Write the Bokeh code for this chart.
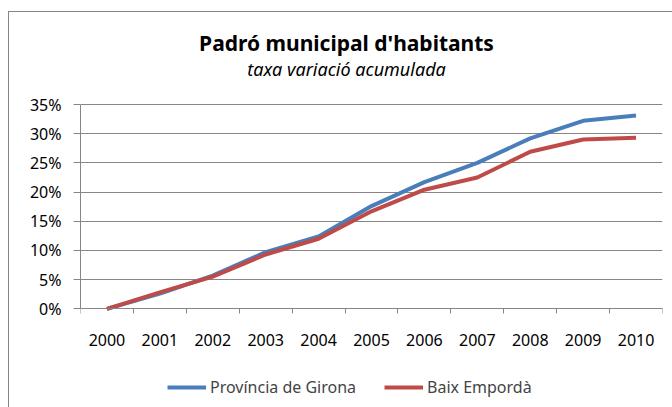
from bokeh.plotting import figure
from bokeh.models import (FixedTicker, NumeralTickFormatter, Label, Legend, LegendItem)
from bokeh.embed import file_html
from bokeh.resources import INLINE

# ---- data ----
years = [2000, 2001, 2002, 2003, 2004, 2005, 2006, 2007, 2008, 2009, 2010]
year_labels = ["2000", "2001", "2002", "2003", "2004", "2005", "2006", "2007", "2008", "2009", "2010"]
girona = [0.0, 2.6, 5.7, 9.7, 12.4, 17.6, 21.7, 25.0, 29.2, 32.2, 33.1]
baix_emporda = [0.0, 2.8, 5.5, 9.3, 12.0, 16.7, 20.4, 22.5, 26.9, 29.0, 29.3]
y_ticks = [0, 5, 10, 15, 20, 25, 30, 35]
series_names = ["Província de Girona", "Baix Empordà"]
title_text = "Padró municipal d'habitants"
subtitle_text = "taxa variació acumulada"

FONT = "Noto Sans"
GRAY = "#868686"
BLUE = "#4A7EBB"
RED = "#BE4B48"

girona_f = [v / 100 for v in girona]
baix_f = [v / 100 for v in baix_emporda]
y_top = y_ticks[-1] / 100

# the frame covers the whole chart area; the value axis spans 0..35% in its middle part
PX_PER_UNIT = 204.3 / y_top
y_lo = -(407 - 308.3) / PX_PER_UNIT
y_hi = y_top + (104 - 12) / PX_PER_UNIT

p = figure(frame_width=582, frame_height=395, output_backend="svg", toolbar_location=None,
           title=None,
           x_range=(years[0] - 0.5, years[-1] + 0.5), y_range=(y_lo, y_hi),
           min_border_left=71, min_border_right=10, min_border_top=0, min_border_bottom=0,
           margin=(11, 0, 0, 8))
p.styles = {"border-left": "1px solid #868686", "border-top": "1px solid #868686"}
p.outline_line_color = None
p.background_fill_color = "white"
p.border_fill_color = "white"

# x axis: drawn at 0%, labels at years, tick marks between categories
boundaries = [years[0] - 0.5] + [y + 0.5 for y in years]
p.xaxis.fixed_location = 0
p.xaxis.ticker = FixedTicker(ticks=years, minor_ticks=boundaries)
p.xaxis.major_label_overrides = {y: l for y, l in zip(years, year_labels)}
p.xaxis.major_tick_out = 0
p.xaxis.major_tick_in = 0
p.xaxis.minor_tick_out = 5
p.xaxis.minor_tick_in = 0
p.xaxis.minor_tick_line_color = GRAY
p.xaxis.axis_line_color = GRAY
p.xaxis.major_label_standoff = 20
p.xaxis.major_label_text_font = FONT
p.xaxis.major_label_text_font_size = "16px"
p.xaxis.major_label_text_color = "black"
p.xgrid.grid_line_color = None

# y axis
p.yaxis.ticker = FixedTicker(ticks=[t / 100 for t in y_ticks])
p.yaxis.bounds = (0, y_top)
p.yaxis.formatter = NumeralTickFormatter(format="0%")
p.yaxis.major_tick_out = 7
p.yaxis.major_tick_in = 0
p.yaxis.minor_tick_line_color = None
p.yaxis.major_tick_line_color = GRAY
p.yaxis.axis_line_color = GRAY
p.yaxis.major_label_standoff = 12
p.yaxis.major_label_text_font = FONT
p.yaxis.major_label_text_font_size = "16px"
p.yaxis.major_label_text_color = "black"
p.ygrid.grid_line_color = GRAY
p.ygrid.grid_line_width = 1

r1 = p.line(years, girona_f, line_color=BLUE, line_width=4)
r2 = p.line(years, baix_f, line_color=RED, line_width=4)

# titles (screen units, measured from the frame's bottom-left corner)
p.add_layout(Label(x=266, y=365, x_units="screen", y_units="screen", text=title_text,
                   text_font=FONT, text_font_style="bold", text_font_size="21px",
                   text_align="center", text_baseline="alphabetic", text_color="black"))
p.add_layout(Label(x=266, y=338.5, x_units="screen", y_units="screen", text=subtitle_text,
                   text_font=FONT, text_font_style="italic", text_font_size="18px",
                   text_align="center", text_baseline="alphabetic", text_color="black"))

legend = Legend(items=[LegendItem(label=series_names[0], renderers=[r1]),
                       LegendItem(label=series_names[1], renderers=[r2])],
                orientation="horizontal", location=(87, 9),
                padding=0, margin=0, spacing=24, label_standoff=4, label_width=150,
                glyph_width=39, glyph_height=20, label_height=20,
                label_text_font=FONT, label_text_font_size="16px",
                border_line_color=None, background_fill_alpha=0)
p.add_layout(legend, "center")

open("out.html", "w").write(file_html(p, INLINE))
